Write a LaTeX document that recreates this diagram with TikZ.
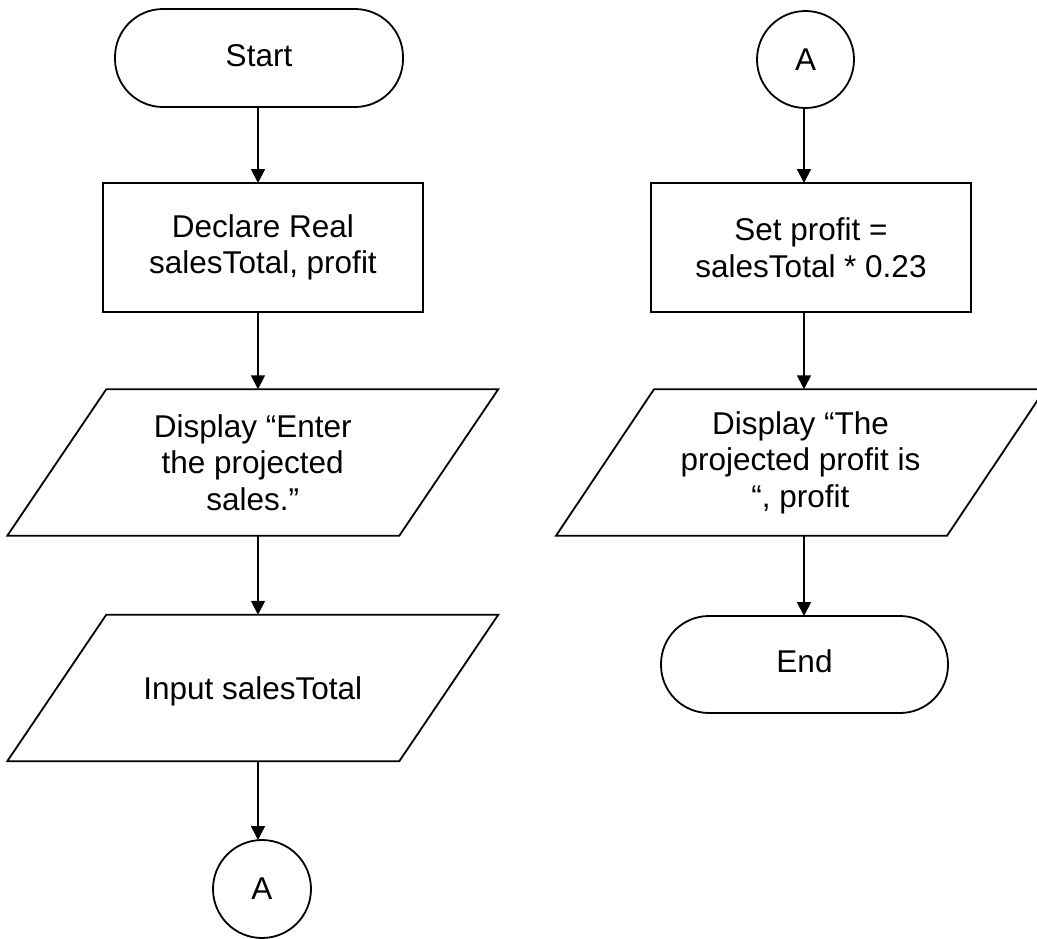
\documentclass[tikz,border=0pt]{standalone}
\usepackage{fontspec}
\setmainfont{Liberation Sans}
\usetikzlibrary{arrows.meta}
\begin{document}
\begin{tikzpicture}[x=1pt,y=-1pt,
  every node/.style={inner sep=0pt,outer sep=0pt,font=\fontsize{31.5}{36.5}\selectfont,align=center},
  ln/.style={line width=1.8pt,draw=black},
  term/.style={ln,rectangle,rounded corners=48pt,minimum width=288pt,minimum height=98pt,text height=23pt,text depth=6.6pt},
  proc/.style={ln,rectangle,minimum width=320pt,minimum height=129pt},
  io/.style={rectangle,minimum width=392pt,minimum height=146.5pt},
  conn/.style={ln,circle,minimum size=97pt},
  arr/.style={line width=1.8pt,-{Triangle[length=14pt,width=14pt]}}]
\useasboundingbox[fill=white] (0,0) rectangle (1037,938);
\coordinate (colL) at (258,0);
\coordinate (colR) at (804,0);
% left column
\node[term] (start) at (259,58) {Start};
\node[proc] (decl) at (263,247.5) {Declare Real\\salesTotal, profit};
\node[io] (p1) at (252.75,462.5) {Display “Enter\\the projected\\sales.”};
\node[io,text depth=0pt] (p2) at (252.75,688) {Input salesTotal};
\node[conn,minimum size=98pt] (aL) at (262,889) {A};
\foreach \p in {p1,p2}{
  \draw[ln] ([xshift=49.5pt]\p.north west) -- ([xshift=49.5pt]\p.north east) -- ([xshift=-49.5pt]\p.south east) -- ([xshift=-49.5pt]\p.south west) -- cycle;}
\draw[arr] (colL |- start.south) -- (colL |- decl.north);
\draw[arr] (colL |- decl.south) -- (colL |- p1.north);
\draw[arr] (colL |- p1.south) -- (colL |- p2.north);
\draw[arr] (colL |- p2.south) -- (colL |- aL.north);
% right column
\node[conn] (aR) at (805.5,59.5) {A};
\node[proc] (set) at (811,247.5) {Set profit =\\salesTotal * 0.23};
\node[io,minimum width=391pt] (p3) at (800.5,462.5) {Display “The\\projected profit is\\“, profit};
\draw[ln] ([xshift=49pt]p3.north west) -- ([xshift=49pt]p3.north east) -- ([xshift=-49pt]p3.south east) -- ([xshift=-49pt]p3.south west) -- cycle;
\node[term,minimum width=287pt,minimum height=97pt] (end) at (804.5,664.5) {End};
\draw[arr] (colR |- aR.south) -- (colR |- set.north);
\draw[arr] (colR |- set.south) -- (colR |- p3.north);
\draw[arr] (colR |- p3.south) -- (colR |- end.north);
\end{tikzpicture}
\end{document}
